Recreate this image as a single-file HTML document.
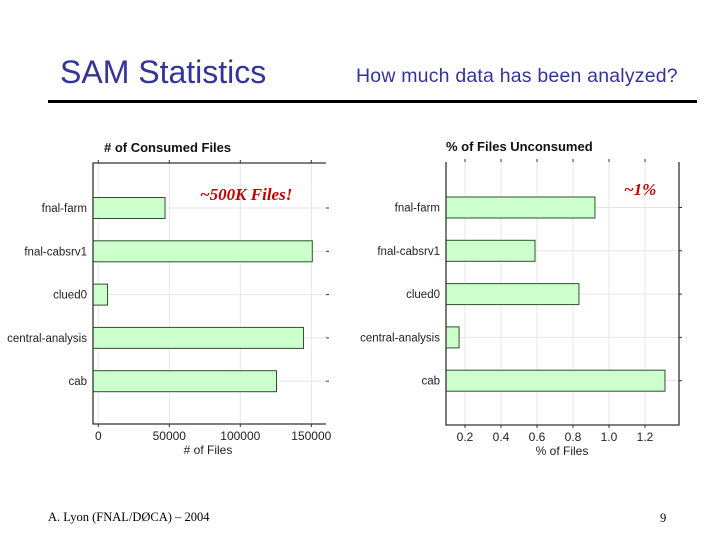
<!DOCTYPE html>
<html><head><meta charset="utf-8"><style>
body{margin:0;width:720px;height:540px;background:#fff;overflow:hidden;font-family:"Liberation Sans",sans-serif;position:relative}
.t{position:absolute;white-space:nowrap}
</style></head><body>
<div class="t" style="left:60px;top:54px;font-size:32px;color:#333399">SAM Statistics</div>
<div class="t" style="left:356px;top:65px;font-size:19.5px;color:#333399;letter-spacing:0.2px">How much data has been analyzed?</div>
<div style="position:absolute;left:48px;top:100px;width:649px;height:3px;background:#000"></div>
<svg id="c" width="720" height="540" style="position:absolute;left:0;top:0"></svg>
<div class="t" style="left:48px;top:510px;font-family:'Liberation Serif',serif;font-size:12.5px">A. Lyon (FNAL/DØCA) – 2004</div>
<div class="t" style="left:660px;top:511px;font-family:'Liberation Serif',serif;font-size:12.5px">9</div>
<script>
const categories=["fnal-farm","fnal-cabsrv1","clued0","central-analysis","cab"];
const consumed=[47000,150700,6500,144500,125500];
const unconsumed=[0.922,0.589,0.833,0.167,1.311];
const leftTicks=[0,50000,100000,150000];
const leftTickLabels=["0","50000","100000","150000"];
const rightTicks=[0.2,0.4,0.6,0.8,1.0,1.2];
const rightTickLabels=["0.2","0.4","0.6","0.8","1.0","1.2"];
const NS="http://www.w3.org/2000/svg",svg=document.getElementById('c');
function mk(t,a,p){const e=document.createElementNS(NS,t);for(const k in a)e.setAttribute(k,a[k]);(p||svg).appendChild(e);return e;}
function chart(o){
  const g=mk('g',{});
  
  
  const xs=v=>o.x0+(v-o.d0)*o.k;
  const ys=i=>o.top+o.first+i*43.3;
  o.ticks.forEach((v,i)=>{
    const l=mk('line',{x1:xs(v),x2:xs(v),y1:o.top,y2:o.bottom,stroke:'#e6e6e6'},g);
    
    mk('line',{x1:xs(v),x2:xs(v),y1:o.top-3,y2:o.top,stroke:'#333'},g);
    mk('line',{x1:xs(v),x2:xs(v),y1:o.bottom,y2:o.bottom+3,stroke:'#333'},g);
    const t=mk('text',{x:xs(v),y:o.bottom+16,'text-anchor':'middle','font-size':12,fill:'#222'},g);
    t.textContent=o.labels[i];
    
  });
  categories.forEach((c,i)=>{
    const y=ys(i);
    mk('line',{x1:o.left,x2:o.right,y1:y,y2:y,stroke:'#e6e6e6'},g);
    mk('line',{x1:o.right,x2:o.right+3,y1:y,y2:y,stroke:'#333'},g);
    const r=mk('rect',{x:o.left,y:y-10.5,width:Math.max(0,xs(o.vals[i])-o.left),height:21,fill:'#ccffcc',stroke:'#2f4f2f','stroke-width':1},g);
    
    const t=mk('text',{x:o.left-6,y:y+4,'text-anchor':'end','font-size':11.5,fill:'#222'},g);
    t.textContent=c;
    
  });
  const ax=mk('path',{d:o.frame,fill:'none',stroke:'#333','stroke-width':1.3},g);
  
  const ti=mk('text',{x:o.titleX,y:o.top-11,'font-size':13,'font-weight':'bold',fill:'#111'},g);
  ti.textContent=o.title;
  
  const xt=mk('text',{x:o.xtX,y:o.bottom+30,'text-anchor':'middle','font-size':12,fill:'#222'},g);
  xt.textContent=o.xtitle;
  
  const an=mk('text',{x:o.annX,y:o.annY,'font-family':'Liberation Serif,serif','font-size':17,'font-style':'italic','font-weight':'bold',fill:'#c00000'},g);
  an.textContent=o.ann;
  
}
chart({name:'consumed-files-chart',left:93,right:326,top:163,bottom:424,first:45,x0:98.3,d0:0,k:142/100000,ticks:leftTicks,labels:leftTickLabels,vals:consumed,
  frame:'M326,163 L93,163 L93,424 L326,424',title:'# of Consumed Files',titleX:104,xtitle:'# of Files',xtX:208,ann:'~500K Files!',annX:200,annY:200});
chart({name:'unconsumed-files-chart',left:446,right:679,top:162,bottom:425,first:45.5,x0:465,d0:0.2,k:180/1.0,ticks:rightTicks,labels:rightTickLabels,vals:unconsumed,
  frame:'M446,162 L446,425 L679,425 L679,162',title:'% of Files Unconsumed',titleX:446,xtitle:'% of Files',xtX:562,ann:'~1%',annX:624,annY:195});
</script>
</body></html>
